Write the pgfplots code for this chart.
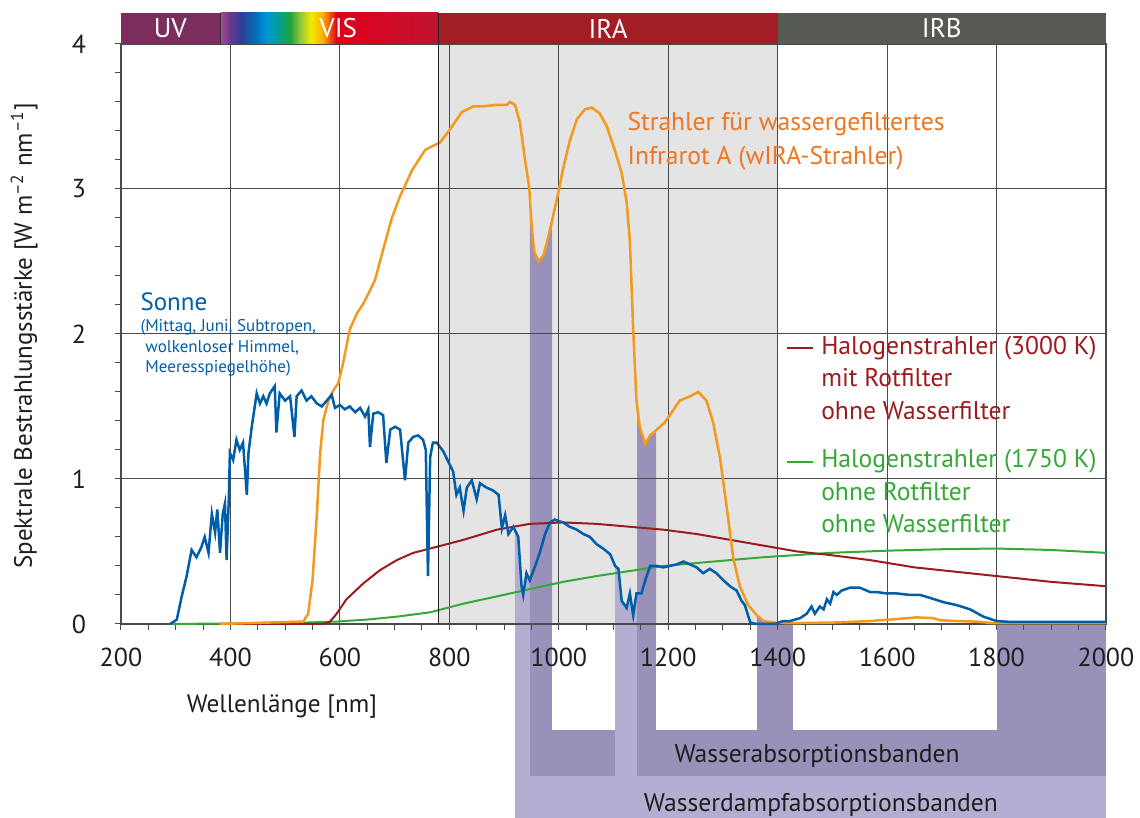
\documentclass[border=0pt]{standalone}
\usepackage{fontspec}
\setmainfont{PT Sans}
\usepackage{pgfplots}
\pgfplotsset{compat=1.18}
\usepgfplotslibrary{fillbetween}

\definecolor{gridgray}{HTML}{4A4A4A}
\definecolor{irgray}{HTML}{E4E4E4}
\definecolor{dpurple}{HTML}{9A91BA}
\definecolor{lpurple}{HTML}{B6AED2}
\definecolor{sunblue}{HTML}{005DA8}
\definecolor{wiraline}{HTML}{F39A1E}
\definecolor{wiratext}{HTML}{EC7623}
\definecolor{halored}{HTML}{9B1B1F}
\definecolor{halogreen}{HTML}{35A936}
\definecolor{bandUV}{HTML}{7B2E5E}
\definecolor{bandIRA}{HTML}{A31D25}
\definecolor{bandIRB}{HTML}{575A53}
\definecolor{txt}{HTML}{1E1E1E}

\newcommand{\ftxt}{\fontsize{12.8}{15}\selectfont}
\newcommand{\fband}{\fontsize{13.5}{15}\selectfont}

\begin{document}
\begin{tikzpicture}
\begin{axis}[
  set layers,
  width=492.5pt, height=290pt, scale only axis,
  xmin=200, xmax=2000, ymin=0, ymax=4,
  clip=false,
  xtick={200,400,...,2000}, ytick={0,1,2,3,4},
  minor x tick num=3, minor y tick num=4,
  tick align=outside, xtick pos=bottom, ytick pos=left,
  major tick length=3pt, minor tick length=3pt,
  grid=major, major grid style={gridgray, line width=0.5pt},
  axis line style={gridgray, line width=0.6pt},
  tick style={gridgray, line width=0.5pt},
  /pgf/number format/assume math mode=true,
  /pgf/number format/1000 sep={},
  ticklabel style={font=\fontsize{13}{15}\selectfont, text=txt},
  xticklabel style={yshift=-5.5pt},
  yticklabel style={xshift=-11pt},
]

% IR-A background
\begin{pgfonlayer}{axis background}
\fill[irgray] (axis cs:780,0) rectangle (axis cs:1400,4);
% absorption bands below the axis
\fill[lpurple] (axis cs:920,-1.048) rectangle (axis cs:2000,-1.338);
\fill[dpurple] (axis cs:947,-0.731) rectangle (axis cs:2000,-1.048);
\fill[dpurple] (axis cs:947,0) rectangle (axis cs:988,-0.731);
\fill[dpurple] (axis cs:1143,0) rectangle (axis cs:1178,-0.731);
\fill[dpurple] (axis cs:1362,0) rectangle (axis cs:1428,-0.731);
\fill[dpurple] (axis cs:1800,0) rectangle (axis cs:2000,-0.731);
\fill[lpurple] (axis cs:920,0) rectangle (axis cs:947,-1.048);
\fill[lpurple] (axis cs:1103,0) rectangle (axis cs:1143,-1.048);
\end{pgfonlayer}

\addplot[draw=none, name path=zero, forget plot] coordinates {(200,0) (2000,0)};

% Halogen 1750 K
\addplot[halogreen, line width=1pt] coordinates {
(290,0) (500,0.005) (593,0.016) (650,0.03) (704,0.05) (765,0.08) (826,0.14)
(887,0.19) (947,0.24) (1008,0.29) (1069,0.33) (1130,0.365) (1191,0.40)
(1252,0.42) (1313,0.44) (1374,0.46) (1435,0.475) (1496,0.49) (1600,0.505)
(1700,0.515) (1800,0.52) (1900,0.51) (2000,0.49)};

% Halogen 3000 K mit Rotfilter
\addplot[halored, line width=1pt] coordinates {
(380,0) (570,0) (582,0.016) (594,0.07) (612,0.17) (643,0.28) (673,0.37)
(704,0.44) (734,0.49) (765,0.52) (826,0.58) (887,0.65) (947,0.69) (1008,0.70)
(1069,0.69) (1130,0.67) (1191,0.65) (1252,0.62) (1313,0.58) (1374,0.54)
(1435,0.50) (1496,0.475) (1569,0.44) (1650,0.39) (1800,0.33) (1900,0.29) (2000,0.26)};

% wIRA
\addplot[wiraline, line width=1.25pt, name path=wira] coordinates {
(380,0) (533,0.016) (542,0.07) (550,0.30) (558,0.76) (564,1.18) (570,1.41)
(579,1.54) (588,1.61) (597,1.66) (606,1.80) (618,2.03) (631,2.14) (643,2.21)
(655,2.30) (664,2.37) (679,2.58) (695,2.80) (710,2.95) (732,3.13) (756,3.27)
(783,3.32) (801,3.41) (823,3.53) (844,3.57) (862,3.57) (887,3.58) (905,3.58)
(911,3.60) (920,3.58) (929,3.46) (938,3.21) (946,3.01) (950,2.77) (955,2.57)
(963,2.50) (972,2.54) (981,2.67) (990,2.82) (999,2.97) (1008,3.14) (1020,3.33)
(1033,3.48) (1048,3.55) (1061,3.56) (1075,3.52) (1088,3.43) (1103,3.26)
(1115,3.11) (1124,2.91) (1130,2.64) (1136,2.03) (1142,1.54) (1148,1.36)
(1158,1.24) (1167,1.30) (1179,1.34) (1194,1.39) (1203,1.44) (1221,1.54)
(1240,1.57) (1255,1.60) (1270,1.54) (1282,1.39) (1295,1.14) (1307,0.80)
(1319,0.45) (1331,0.26) (1346,0.13) (1362,0.06) (1374,0.02) (1392,0.01)
(1420,0.005) (1508,0.01) (1569,0.02) (1605,0.03) (1654,0.045) (1684,0.04)
(1697,0.025) (1727,0.02) (1763,0.016) (1794,0.005) (2000,0.005)};

% Sonne
\addplot[sunblue, line width=1.25pt, name path=sun] coordinates {
(290,0) (302,0.03) (311,0.19) (320,0.33) (329,0.51) (338,0.46) (347,0.53)
(353,0.60) (360,0.49) (366,0.76) (372,0.63) (376,0.79) (381,0.49) (386,0.76)
(390,0.83) (393,0.44) (397,0.86) (399,1.18) (405,1.13) (411,1.27) (417,1.20)
(423,1.25) (430,0.89) (433,1.18) (439,1.36) (448,1.59) (454,1.52) (460,1.57)
(466,1.52) (472,1.59) (481,1.64) (484,1.32) (490,1.59) (500,1.54) (509,1.57)
(517,1.29) (521,1.57) (530,1.61) (539,1.54) (548,1.57) (558,1.52) (567,1.50)
(576,1.54) (585,1.58) (591,1.49) (600,1.51) (609,1.48) (618,1.50) (628,1.46)
(637,1.49) (646,1.43) (652,1.48) (655,1.22) (661,1.45) (670,1.46) (679,1.44)
(685,1.11) (692,1.34) (701,1.36) (710,1.34) (719,0.99) (725,1.25) (734,1.29)
(743,1.30) (752,1.27) (757,1.20) (761,0.33) (765,1.15) (770,1.25) (777,1.25)
(789,1.19) (798,1.12) (807,1.05) (813,0.89) (819,0.94) (826,0.78) (832,0.94)
(841,0.99) (850,0.86) (856,0.97) (868,0.94) (880,0.92) (890,0.89) (896,0.66)
(902,0.75) (908,0.62) (917,0.67) (926,0.60) (932,0.26) (935,0.20) (941,0.35)
(947,0.30) (957,0.40) (966,0.50) (975,0.62) (984,0.70) (993,0.72) (999,0.71)
(1008,0.70) (1020,0.67) (1033,0.65) (1045,0.62) (1057,0.60) (1069,0.55)
(1081,0.52) (1094,0.48) (1103,0.40) (1109,0.38) (1115,0.16) (1124,0.11)
(1130,0.21) (1136,0.06) (1142,0.21) (1151,0.21) (1158,0.30) (1167,0.40)
(1179,0.40) (1191,0.39) (1203,0.40) (1215,0.41) (1228,0.43) (1240,0.41)
(1252,0.39) (1264,0.35) (1276,0.38) (1288,0.35) (1301,0.30) (1313,0.26)
(1325,0.23) (1334,0.16) (1340,0.13) (1350,0.01) (1360,0) (1395,0) (1410,0.02)
(1423,0.02) (1441,0.04) (1453,0.07) (1462,0.12) (1468,0.07) (1477,0.12)
(1484,0.10) (1490,0.17) (1496,0.14) (1502,0.22) (1508,0.20) (1517,0.23)
(1532,0.25) (1550,0.25) (1569,0.22) (1581,0.22) (1599,0.21) (1618,0.21)
(1642,0.20) (1660,0.20) (1678,0.18) (1703,0.15) (1727,0.13) (1752,0.10)
(1776,0.05) (1800,0.02) (1825,0.014) (2000,0.014)};

% absorption bands under the curves
\addplot[lpurple] fill between[of=sun and zero, soft clip={domain=920:947}, on layer=axis background];
\addplot[lpurple] fill between[of=sun and zero, soft clip={domain=1103:1143}, on layer=axis background];
\addplot[dpurple] fill between[of=wira and zero, soft clip={domain=947:988}, on layer=axis background];
\addplot[dpurple] fill between[of=wira and zero, soft clip={domain=1143:1178}, on layer=axis background];
\addplot[dpurple] fill between[of=wira and zero, soft clip={domain=1362:1428}, on layer=axis background];
\addplot[dpurple] fill between[of=wira and zero, soft clip={domain=1800:2000}, on layer=axis background];

% spectral band bar
\fill[bandUV] (axis cs:200,4) rectangle (axis cs:382,4.214);
\shade[left color={rgb,255:red,170;green,72;blue,140}, right color={rgb,255:red,106;green,58;blue,143}] (axis cs:382,4) rectangle (axis cs:399,4.214);
\shade[left color={rgb,255:red,106;green,58;blue,143}, right color={rgb,255:red,46;green,61;blue,150}] (axis cs:398.8,4) rectangle (axis cs:420,4.214);
\shade[left color={rgb,255:red,46;green,61;blue,150}, right color={rgb,255:red,0;green,114;blue,188}] (axis cs:419.8,4) rectangle (axis cs:448,4.214);
\shade[left color={rgb,255:red,0;green,114;blue,188}, right color={rgb,255:red,0;green,150;blue,214}] (axis cs:447.8,4) rectangle (axis cs:466,4.214);
\shade[left color={rgb,255:red,0;green,150;blue,214}, right color={rgb,255:red,0;green,160;blue,150}] (axis cs:465.8,4) rectangle (axis cs:487,4.214);
\shade[left color={rgb,255:red,0;green,160;blue,150}, right color={rgb,255:red,31;green,163;blue,58}] (axis cs:486.8,4) rectangle (axis cs:509,4.214);
\shade[left color={rgb,255:red,31;green,163;blue,58}, right color={rgb,255:red,141;green,198;blue,63}] (axis cs:508.8,4) rectangle (axis cs:527,4.214);
\shade[left color={rgb,255:red,141;green,198;blue,63}, right color={rgb,255:red,247;green,233;blue,0}] (axis cs:526.8,4) rectangle (axis cs:548,4.214);
\shade[left color={rgb,255:red,247;green,233;blue,0}, right color={rgb,255:red,247;green,168;blue,0}] (axis cs:547.8,4) rectangle (axis cs:570,4.214);
\shade[left color={rgb,255:red,247;green,168;blue,0}, right color={rgb,255:red,226;green,0;blue,26}] (axis cs:569.8,4) rectangle (axis cs:594,4.214);
\shade[left color={rgb,255:red,226;green,0;blue,26}, right color={rgb,255:red,192;green,18;blue,46}] (axis cs:593.8,4) rectangle (axis cs:780,4.214);
\fill[bandIRA] (axis cs:780,4) rectangle (axis cs:1400,4.214);
\fill[bandIRB] (axis cs:1400,4) rectangle (axis cs:2000,4.214);
\draw[black!80, line width=0.5pt] (axis cs:382,4) -- (axis cs:382,4.214);
\draw[black!85, line width=0.7pt] (axis cs:780,0) -- (axis cs:780,4.214);
\node[text=white, font=\fband] at (axis cs:290,4.107) {UV};
\node[text=white, font=\fband] at (axis cs:597,4.107) {VIS};
\node[text=white, font=\fband] at (axis cs:1090,4.107) {IRA};
\node[text=white, font=\fband] at (axis cs:1700,4.107) {IRB};

% annotations
\node[anchor=base west, text=wiratext, font=\ftxt, inner sep=0pt] at (axis cs:1125,3.40) {Strahler für wassergefiltertes};
\node[anchor=base west, text=wiratext, font=\ftxt, inner sep=0pt] at (axis cs:1125,3.166) {Infrarot A (wIRA-Strahler)};

\draw[halored, line width=0.8pt] (axis cs:1417,1.903) -- (axis cs:1465,1.903);
\node[anchor=base west, text=halored, font=\ftxt, inner sep=0pt] at (axis cs:1479,1.855) {Halogenstrahler (3000 K)};
\node[anchor=base west, text=halored, font=\ftxt, inner sep=0pt] at (axis cs:1479,1.634) {mit Rotfilter};
\node[anchor=base west, text=halored, font=\ftxt, inner sep=0pt] at (axis cs:1479,1.407) {ohne Wasserfilter};

\draw[halogreen, line width=0.8pt] (axis cs:1417,1.117) -- (axis cs:1465,1.117);
\node[anchor=base west, text=halogreen, font=\ftxt, inner sep=0pt] at (axis cs:1479,1.076) {Halogenstrahler (1750 K)};
\node[anchor=base west, text=halogreen, font=\ftxt, inner sep=0pt] at (axis cs:1479,0.852) {ohne Rotfilter};
\node[anchor=base west, text=halogreen, font=\ftxt, inner sep=0pt] at (axis cs:1479,0.628) {ohne Wasserfilter};

\node[anchor=base west, text=sunblue, font=\fontsize{12.5}{15}\selectfont, inner sep=0pt] at (axis cs:235,2.160) {Sonne};
\node[anchor=base west, text=sunblue, font=\fontsize{8.5}{10}\selectfont, inner sep=0pt] at (axis cs:235,2.014) {(Mittag, Juni, Subtropen,};
\node[anchor=base west, text=sunblue, font=\fontsize{8.5}{10}\selectfont, inner sep=0pt] at (axis cs:244,1.873) {wolkenloser Himmel,};
\node[anchor=base west, text=sunblue, font=\fontsize{8.5}{10}\selectfont, inner sep=0pt] at (axis cs:244,1.735) {Meeresspiegelhöhe)};

\node[anchor=base, text=txt, font=\ftxt, inner sep=0pt] at (axis cs:1472,-0.959) {Wasserabsorptionsbanden};
\node[anchor=base, text=txt, font=\ftxt, inner sep=0pt] at (axis cs:1479,-1.297) {Wasserdampfabsorptionsbanden};

% axis titles
\node[anchor=base, text=txt, font=\fontsize{12.6}{15}\selectfont, inner sep=0pt] at (axis cs:494,-0.614) {Wellenlänge [nm]};
\node[anchor=base, rotate=90, text=txt, font=\fontsize{12.5}{15}\selectfont, inner sep=0pt] at (axis cs:37,1.986) {Spektrale Bestrahlungsstärke [W m\textsuperscript{–2} nm\textsuperscript{–1}]};

\coordinate (bbSW) at (axis cs:-21.1,-1.338);
\coordinate (bbNE) at (axis cs:2062.2,4.303);
\end{axis}
\pgfresetboundingbox
\path[use as bounding box] (bbSW) rectangle (bbNE);
\end{tikzpicture}
\end{document}
